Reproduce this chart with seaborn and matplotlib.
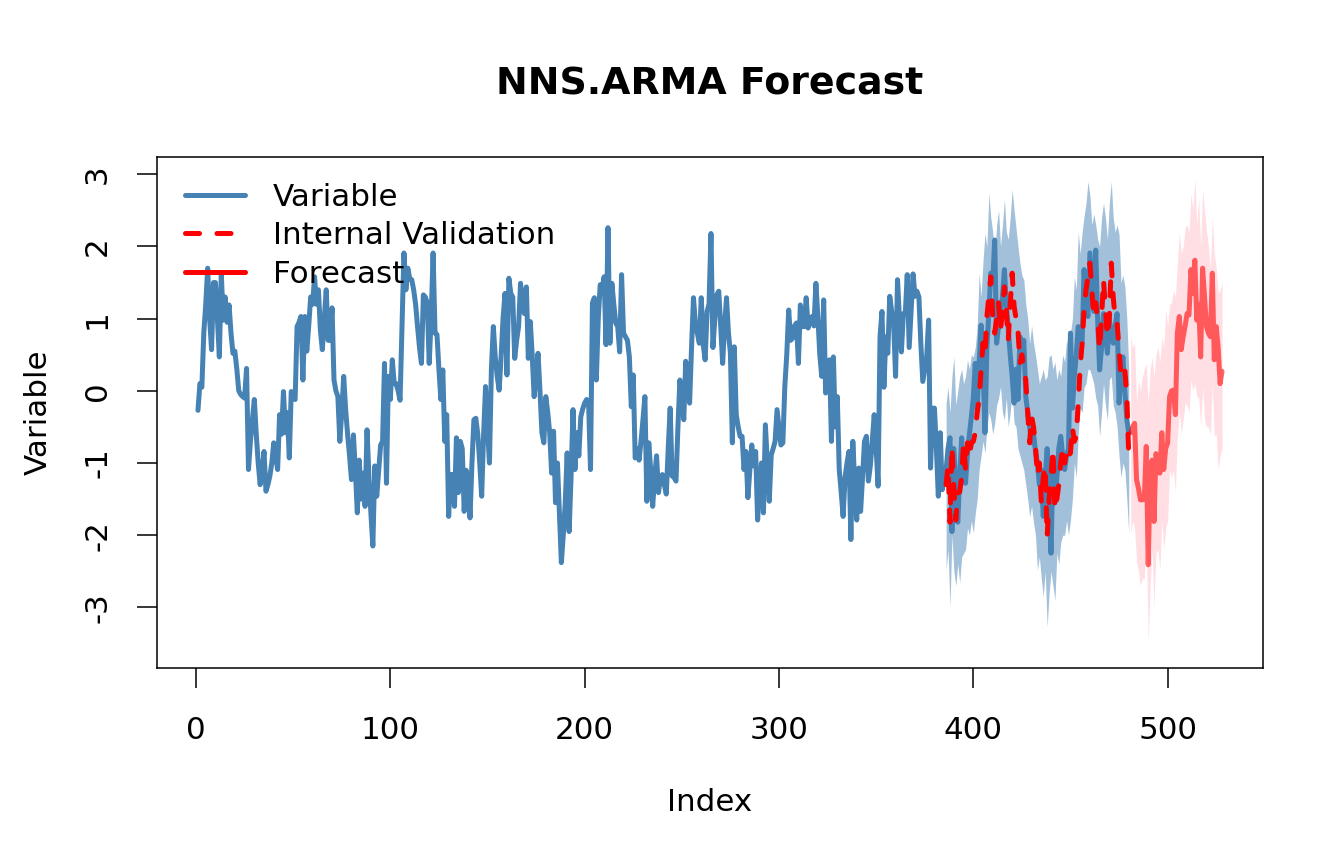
"""NNS.ARMA forecast chart: series, internal validation and forecast with bands."""
import matplotlib

matplotlib.use("Agg")
import matplotlib.pyplot as plt
import numpy as np
import pandas as pd
import seaborn as sns
from matplotlib.lines import Line2D

# observed series, index 1..480
variable = [
    -0.27, 0.10, 0.05, 0.80, 1.20, 1.70, 1.00, 0.57, 1.50, 1.50,
    1.00, 0.47, 1.63, 0.98, 1.30, 0.95, 1.19, 0.80, 0.52, 0.55,
    0.30, 0.00, -0.05, -0.08, -0.10, 0.31, -1.09, -0.70, -0.40, -0.12,
    -0.60, -1.00, -1.30, -1.10, -0.84, -1.39, -1.30, -1.18, -1.00, -0.72,
    -0.90, -1.09, -0.33, -0.60, -0.01, -0.58, -0.30, -0.93, -0.01, -0.10,
    -0.12, 0.89, 0.95, 1.03, 0.15, 1.03, 0.55, 0.90, 1.30, 1.20,
    1.58, 1.20, 1.40, 0.84, 0.57, 1.00, 1.40, 0.70, 0.70, 1.15,
    0.15, 0.00, -0.08, -0.70, -0.30, 0.20, -0.26, -0.60, -0.90, -1.23,
    -0.61, -1.10, -1.69, -0.96, -1.50, -1.14, -1.60, -0.54, -1.20, -1.70,
    -2.15, -1.04, -1.46, -1.10, -0.75, -0.70, 0.38, -1.28, 0.20, -0.12,
    0.43, 0.10, 0.10, 0.00, -0.13, 0.90, 1.91, 1.40, 1.70, 1.55,
    1.54, 1.40, 1.20, 0.89, 0.60, 0.38, 1.33, 1.30, 1.22, 0.38,
    1.00, 1.91, 0.80, 0.78, 0.30, -0.12, 0.29, -0.70, -0.33, -1.74,
    -1.16, -1.16, -1.60, -0.65, -1.41, -0.70, -0.80, -1.67, -1.10, -1.20,
    -1.76, -1.00, -0.40, -0.38, -0.60, -1.00, -1.46, -0.60, 0.06, -0.50,
    -1.00, 0.30, 0.89, 0.47, 0.20, 0.01, 0.47, 1.00, 1.35, 0.22,
    1.56, 1.35, 1.30, 0.45, 0.70, 0.89, 1.49, 1.20, 1.07, 1.44,
    0.45, 0.96, 0.50, -0.08, 0.20, 0.52, 0.00, -0.58, -0.72, -0.08,
    -0.30, -0.58, -1.14, -0.56, -1.55, -1.00, -1.70, -2.38, -2.00, -1.55,
    -0.86, -1.95, -1.20, -0.26, -1.09, -0.58, -0.90, -0.36, -0.25, -0.17,
    -0.12, -0.15, -1.09, 1.22, 1.29, 0.15, 1.00, 1.47, 1.40, 1.58,
    0.64, 2.26, 0.66, 1.49, 1.20, 0.94, 0.89, 0.54, 1.61, 0.80,
    0.75, 0.70, 0.47, -0.22, 0.22, -0.93, -0.80, -0.96, -0.70, -0.40,
    -0.08, -1.53, -0.72, -1.10, -1.60, -1.20, -0.90, -1.41, -1.20, -1.16,
    -1.30, -1.43, -0.80, -0.24, -1.18, -1.20, -1.25, -0.50, 0.15, -0.10,
    -0.40, 0.41, 0.10, -0.17, 0.60, 1.29, 0.92, 0.80, 0.66, 1.29,
    0.64, 0.43, 1.10, 1.20, 2.18, 0.60, 1.00, 1.33, 1.38, 0.90,
    0.38, 0.90, 1.29, 0.80, 0.52, -0.72, 0.61, -0.33, -0.50, -0.63,
    -0.63, -1.09, -0.84, -1.48, -1.10, -0.75, -1.04, -0.84, -1.79, -1.30,
    -1.00, -1.69, -0.47, -1.00, -1.53, -0.89, -0.80, -0.70, -0.26, -0.50,
    -0.75, -0.72, 0.06, 0.50, 1.12, 0.70, 0.73, 0.90, 0.94, 0.38,
    1.19, 0.89, 0.89, 1.29, 0.87, 1.00, 1.03, 0.90, 1.49, 1.03,
    0.50, 0.20, 1.26, -0.03, 0.20, 0.43, -0.70, 0.47, -0.50, -0.08,
    -1.09, -1.40, -1.74, -1.20, -1.00, -0.84, -2.06, -0.70, -1.30, -1.79,
    -1.07, -1.67, -1.20, -0.70, -0.63, -1.25, -1.04, -0.70, -0.33, -0.80,
    -1.32, 0.75, 1.10, 0.05, 0.75, 0.52, 1.31, 1.10, 0.94, 0.20,
    1.54, 1.00, 0.54, 1.07, 1.07, 1.61, 0.60, 1.10, 1.62, 1.31,
    1.38, 1.30, 0.66, 0.13, 0.30, 0.47, 0.98, -1.07, -0.24, -0.24,
    -0.80, -1.46, -0.58, -1.37, -1.20, -1.09, -0.80, -0.65, -1.95, -0.80,
    -1.30, -1.82, -1.20, -0.65, -1.25, -1.28, -0.87, -0.60, -0.36, -0.10,
    0.38, -0.24, 0.40, 0.91, 0.38, -0.58, 0.60, 1.07, 1.63, 1.50,
    2.09, 0.66, 0.90, 1.07, 1.30, 1.68, 1.20, 0.84, 0.50, 0.20,
    -0.17, 0.30, -0.12, 0.75, 0.50, 0.70, -0.08, -0.30, -0.50, -0.72,
    -0.60, -0.84, -1.00, -1.30, -1.10, -1.74, -1.20, -0.80, -1.50, -2.25,
    -1.00, -1.55, -1.20, -0.80, -0.63, -0.90, -1.09, -0.90, -0.80, 0.80,
    -0.24, 0.20, 0.50, 0.89, 0.70, 0.66, 1.68, 1.20, 1.03, 1.91,
    1.50, 1.10, 1.95, 0.98, 0.29, 0.60, 1.07, 0.80, 0.52, 0.98,
    0.80, 0.66, 0.90, 1.07, -0.17, 0.20, 0.47, 0.00, -0.40, -0.58,
]

# internal validation, index 386..480
validation = [
    -1.30, -1.04, -1.82, -0.77, -1.37, -1.79, -1.41, -1.40, -1.20, -0.72,
    -1.09, -0.72, -0.90, -0.72, -0.70, -0.58, -0.30, -0.12, 0.29, 0.66,
    0.50, 1.03, 1.31, 1.58, 1.03, 0.80, 1.00, 1.22, 0.84, 1.10,
    1.44, 1.10, 0.70, 1.20, 1.63, 1.17, 1.00, 0.84, 0.38, 0.50,
    0.30, 0.15, -0.30, -0.72, -0.35, -0.50, -0.77, -1.18, -1.00, -1.55,
    -1.20, -1.04, -2.02, -1.50, -1.18, -0.80, -1.65, -1.50, -1.30, -1.00,
    -0.77, -1.00, -0.80, -0.90, -0.86, -0.50, -0.70, -0.63, -0.17, 0.33,
    0.66, 1.12, 1.40, 1.58, 1.77, 1.40, 1.03, 1.22, 0.98, 0.57,
    1.00, 1.54, 1.12, 0.75, 1.00, 1.77, 1.30, 1.00, 0.94, 0.57,
    0.20, 0.30, 0.29, -0.08, -0.90,
]
validation_upper = [
    -0.17, 0.05, -0.30, 0.20, 0.47, -0.20, 0.00, 0.20, 0.30, 0.10,
    0.20, 0.43, 0.30, 0.50, 0.47, 0.60, 0.90, 1.63, 1.30, 1.80,
    2.18, 2.00, 2.74, 2.40, 2.20, 1.90, 2.30, 2.50, 2.00, 2.30,
    2.65, 2.20, 2.10, 2.40, 2.79, 2.50, 2.25, 2.00, 1.77, 1.60,
    1.54, 1.20, 1.00, 0.66, 0.90, 0.66, 0.50, 0.30, 0.10, 0.20,
    0.30, 0.15, 0.20, 0.47, 0.50, 0.30, 0.40, 0.15, 0.30, 0.20,
    0.50, 0.40, 0.70, 0.60, 0.80, 1.00, 1.58, 1.40, 2.20, 1.90,
    2.20, 2.42, 2.60, 2.90, 2.70, 2.30, 2.45, 2.30, 2.10, 2.00,
    2.40, 2.60, 2.40, 2.10, 2.60, 2.90, 2.40, 2.20, 2.30, 2.17,
    1.50, 1.60, 1.44, 1.00, 0.30,
]
validation_lower = [
    -2.48, -2.20, -3.00, -2.00, -2.50, -2.70, -2.40, -2.66, -2.30, -2.25,
    -2.20, -1.90, -2.00, -1.80, -1.97, -1.70, -1.50, -1.09, -0.90, -0.70,
    -0.86, -0.50, -0.30, -0.40, -0.60, -0.45, -0.20, -0.10, 0.06, -0.30,
    -0.40, -0.10, -0.50, -0.30, 0.00, -0.45, -0.50, -0.80, -0.90, -1.00,
    -1.10, -1.30, -1.50, -1.74, -1.60, -1.83, -2.00, -2.48, -2.30, -2.60,
    -2.85, -2.50, -3.27, -2.80, -2.50, -2.70, -2.90, -2.25, -2.40, -2.10,
    -2.00, -2.00, -1.80, -2.00, -1.79, -1.50, -1.00, -1.20, -0.60, -0.24,
    -0.30, 0.05, 0.10, 0.30, 0.29, 0.20, 0.10, -0.10, -0.20, -0.63,
    -0.30, 0.10, -0.20, -0.40, 0.15, 0.20, -0.20, -0.30, -0.50, -0.90,
    -1.20, -1.00, -1.10, -1.50, -1.97,
]

# forecast, index 481..528
forecast = [
    -0.58, -0.50, -0.45, -1.23, -1.35, -1.51, -1.51, -1.50, -0.77, -2.41,
    -1.20, -0.96, -1.81, -0.87, -1.00, -1.14, -0.58, -1.09, -0.80, -0.72,
    -0.08, 0.00, 0.01, -0.33, 0.80, 1.03, 0.57, 0.75, 0.90, 1.07,
    1.05, 1.68, 1.35, 1.81, 0.98, 1.20, 0.47, 1.70, 1.30, 0.89,
    0.80, 0.75, 1.63, 0.43, 0.89, 0.60, 0.10, 0.27,
]
forecast_upper = [
    0.75, 0.60, 0.66, -0.17, 0.15, 0.00, 0.20, 0.30, 0.38, -0.17,
    0.30, 0.47, 0.20, 0.50, 0.61, 0.40, 0.75, 0.60, 1.12, 0.90,
    1.20, 1.22, 1.40, 1.30, 1.77, 2.20, 1.90, 2.00, 2.26, 2.30,
    2.20, 2.74, 2.50, 2.95, 2.30, 2.67, 2.00, 2.80, 2.50, 2.22,
    2.00, 1.68, 2.40, 1.91, 1.70, 1.35, 1.40, 1.50,
]
forecast_lower = [
    -1.97, -1.80, -1.90, -2.38, -2.50, -2.70, -2.60, -2.60, -2.00, -3.50,
    -2.70, -2.20, -3.00, -2.25, -2.20, -2.48, -1.80, -2.20, -1.90, -1.80,
    -1.10, -1.20, -1.10, -1.40, -0.63, -0.30, -0.60, -0.40, -0.17, -0.20,
    -0.30, 0.15, 0.00, 0.10, -0.08, -0.10, -0.50, 0.05, -0.40, -0.50,
    -0.50, -0.60, 0.10, -0.63, -0.60, -1.10, -0.90, -0.80,
]

VALIDATION_START = 386
FORECAST_START = 481
x_ticks = [0, 100, 200, 300, 400, 500]
y_ticks = [-3, -2, -1, 0, 1, 2, 3]
legend_labels = ["Variable", "Internal Validation", "Forecast"]

LW = 3.6
FS = 22.3

sns.set_theme(style="ticks")
plt.rcParams["font.family"] = ["DejaVu Sans"]
plt.rcParams["axes.unicode_minus"] = False
plt.rcParams["text.color"] = "black"
plt.rcParams["axes.labelcolor"] = "black"

df_var = pd.DataFrame({"Index": np.arange(1, len(variable) + 1), "Valor": variable})
df_val = pd.DataFrame({
    "Index": np.arange(VALIDATION_START, VALIDATION_START + len(validation)),
    "Valor": validation, "Inf": validation_lower, "Sup": validation_upper,
})
df_fc = pd.DataFrame({
    "Index": np.arange(FORECAST_START, FORECAST_START + len(forecast)),
    "Valor": forecast, "Inf": forecast_lower, "Sup": forecast_upper,
})

fig = plt.figure(figsize=(13.44, 8.65), dpi=100)
ax = fig.add_axes([157 / 1344, 1 - 668 / 865, (1263 - 157) / 1344, (668 - 157) / 865])

# bands first
ax.fill_between(df_val["Index"], df_val["Inf"], df_val["Sup"], color="steelblue", alpha=0.5, lw=0)
ax.fill_between(df_fc["Index"], df_fc["Inf"], df_fc["Sup"], color="pink", alpha=0.5, lw=0)

sns.lineplot(data=df_var, x="Index", y="Valor", color="steelblue", lw=LW, ax=ax,
             estimator=None, sort=False, legend=False)
ax.lines[-1].set_solid_joinstyle("round")

sns.lineplot(data=df_val, x="Index", y="Valor", color="red", lw=LW, ax=ax,
             estimator=None, sort=False, legend=False)
linha_val = ax.lines[-1]
linha_val.set_linestyle((0, (2.8, 3.5)))
linha_val.set_dash_capstyle("round")

sns.lineplot(data=df_fc, x="Index", y="Valor", color="red", alpha=0.6, lw=LW, ax=ax,
             estimator=None, sort=False, legend=False)
ax.lines[-1].set_solid_joinstyle("round")

ax.set_xlim(-20.08, 549.08)
ax.set_ylim(-3.84, 3.24)
ax.set_xticks(x_ticks)
ax.set_yticks(y_ticks)
ax.set_xticklabels([str(v) for v in x_ticks])
ax.set_yticklabels([str(v) for v in y_ticks])

for spine in ax.spines.values():
    spine.set_visible(True)
    spine.set_color("black")
    spine.set_linewidth(1.1)

ax.tick_params(axis="both", direction="out", length=14.4, width=1.1, color="black",
               labelsize=FS, labelcolor="black")
ax.tick_params(axis="x", pad=20)
ax.tick_params(axis="y", pad=18, labelrotation=90)
for lab in ax.get_yticklabels():
    lab.set_va("center")

ax.set_xlabel("Index", fontsize=FS, color="black")
ax.set_ylabel("Variable", fontsize=FS, color="black")
ax.xaxis.label.set_va("center")
ax.yaxis.label.set_va("center")
ax.xaxis.set_label_coords(0.5, (668 - 803) / 511)
ax.yaxis.set_label_coords((38 - 157) / 1106, 0.5)

ax.set_title("NNS.ARMA Forecast", fontsize=27.3, fontweight="bold", pad=45, color="black")

handles = [
    Line2D([], [], color="steelblue", lw=LW),
    Line2D([], [], color="red", lw=LW, linestyle=(0, (2.8, 3.5)), dash_capstyle="round"),
    Line2D([], [], color="red", lw=LW),
]
leg = ax.legend(handles, legend_labels, loc="upper left", frameon=False, fontsize=FS,
                bbox_to_anchor=((185 - 157) / 1106, (668 - 183) / 511),
                borderpad=0, borderaxespad=0, handlelength=1.94, handletextpad=0.9,
                labelspacing=0.3)
for txt in leg.get_texts():
    txt.set_color("black")

fig.savefig("out.png", dpi=100)
print("Gráfico salvo como 'out.png'.")
